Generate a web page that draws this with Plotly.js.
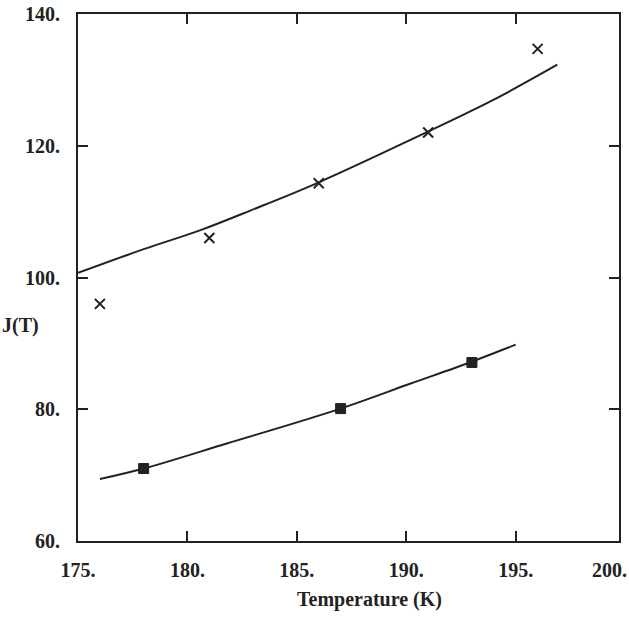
<!DOCTYPE html>
<html>
<head>
<meta charset="utf-8">
<script src="https://cdn.plot.ly/plotly-3.0.1.min.js"></script>
<style>html,body{margin:0;padding:0;background:#fff;}#chart{width:629px;height:626px;}</style>
</head>
<body>
<div id="chart"></div>
<script>
// Data
var crossT = [176, 181, 186, 191, 196];
var crossJ = [96.0, 106.0, 114.3, 122.0, 134.7];
var squareT = [178, 187, 193];
var squareJ = [71.0, 80.1, 87.1];
var upperCurveT = [175, 178, 180.6, 182.9, 185.9, 190.9, 194.0, 196.9];
var upperCurveJ = [100.7, 104.3, 107.2, 110.2, 114.3, 122.0, 127.0, 132.3];
var lowerCurveT = [176.0, 178.0, 181.8, 187.0, 190.2, 192.9, 195.0];
var lowerCurveJ = [69.4, 71.0, 74.8, 80.1, 83.9, 87.1, 89.8];
var xTickVals = [175, 180, 185, 190, 195];
var xTickText = ['175.', '180.', '185.', '190.', '195.'];
var xEdgeLabel = '200.';
var yTickVals = [60, 80, 100, 120, 140];
var yTickText = ['60.', '80.', '100.', '120.', '140.'];

var ink = '#222222';
var font = {family: '"Liberation Serif", "DejaVu Serif", serif', size: 20, color: ink, weight: 'bold'};

var traces = [
  {x: upperCurveT, y: upperCurveJ, mode: 'lines', line: {color: ink, width: 2, shape: 'spline'}, hoverinfo: 'skip'},
  {x: lowerCurveT, y: lowerCurveJ, mode: 'lines', line: {color: ink, width: 2, shape: 'spline'}, hoverinfo: 'skip'},
  {x: crossT, y: crossJ, mode: 'markers', marker: {symbol: 'x-thin-open', size: 10, color: ink, line: {color: ink, width: 2}}},
  {x: squareT, y: squareJ, mode: 'markers', marker: {symbol: 'square', size: 10, color: ink, line: {color: ink, width: 1}}}
];

var layout = {
  width: 629, height: 626,
  margin: {l: 78, r: 10, t: 14, b: 85},
  showlegend: false,
  paper_bgcolor: '#fff', plot_bgcolor: '#fff',
  font: font,
  xaxis: {
    range: [175, 199.72], tickvals: xTickVals, ticktext: xTickText,
    ticks: 'inside', ticklen: 10, tickwidth: 2, tickcolor: ink,
    showline: true, linecolor: ink, linewidth: 2, mirror: 'ticks',
    showgrid: false, zeroline: false, tickfont: font, ticklabelstandoff: 10
  },
  yaxis: {
    range: [60, 140], tickvals: yTickVals, ticktext: yTickText,
    ticks: 'inside', ticklen: 10, tickwidth: 2, tickcolor: ink,
    showline: true, linecolor: ink, linewidth: 2, mirror: 'ticks',
    showgrid: false, zeroline: false, tickfont: font, ticklabelstandoff: 12
  },
  annotations: [
    {text: 'Temperature (K)', xref: 'paper', yref: 'paper', x: (369 - 78) / 541, y: (541 - 599) / 527,
     xanchor: 'center', yanchor: 'middle', showarrow: false, font: font},
    {text: 'J(T)', xref: 'paper', yref: 'paper', x: (0 - 78) / 541, y: (541 - 325) / 527,
     xanchor: 'left', yanchor: 'middle', showarrow: false, font: font},
    {text: xEdgeLabel, xref: 'paper', yref: 'paper', x: (629 - 78) / 541, y: (541 - 570) / 527,
     xanchor: 'right', yanchor: 'middle', showarrow: false, font: font, xshift: 0}
  ]
};

Plotly.newPlot('chart', traces, layout, {displayModeBar: false, staticPlot: true});
</script>
</body>
</html>
